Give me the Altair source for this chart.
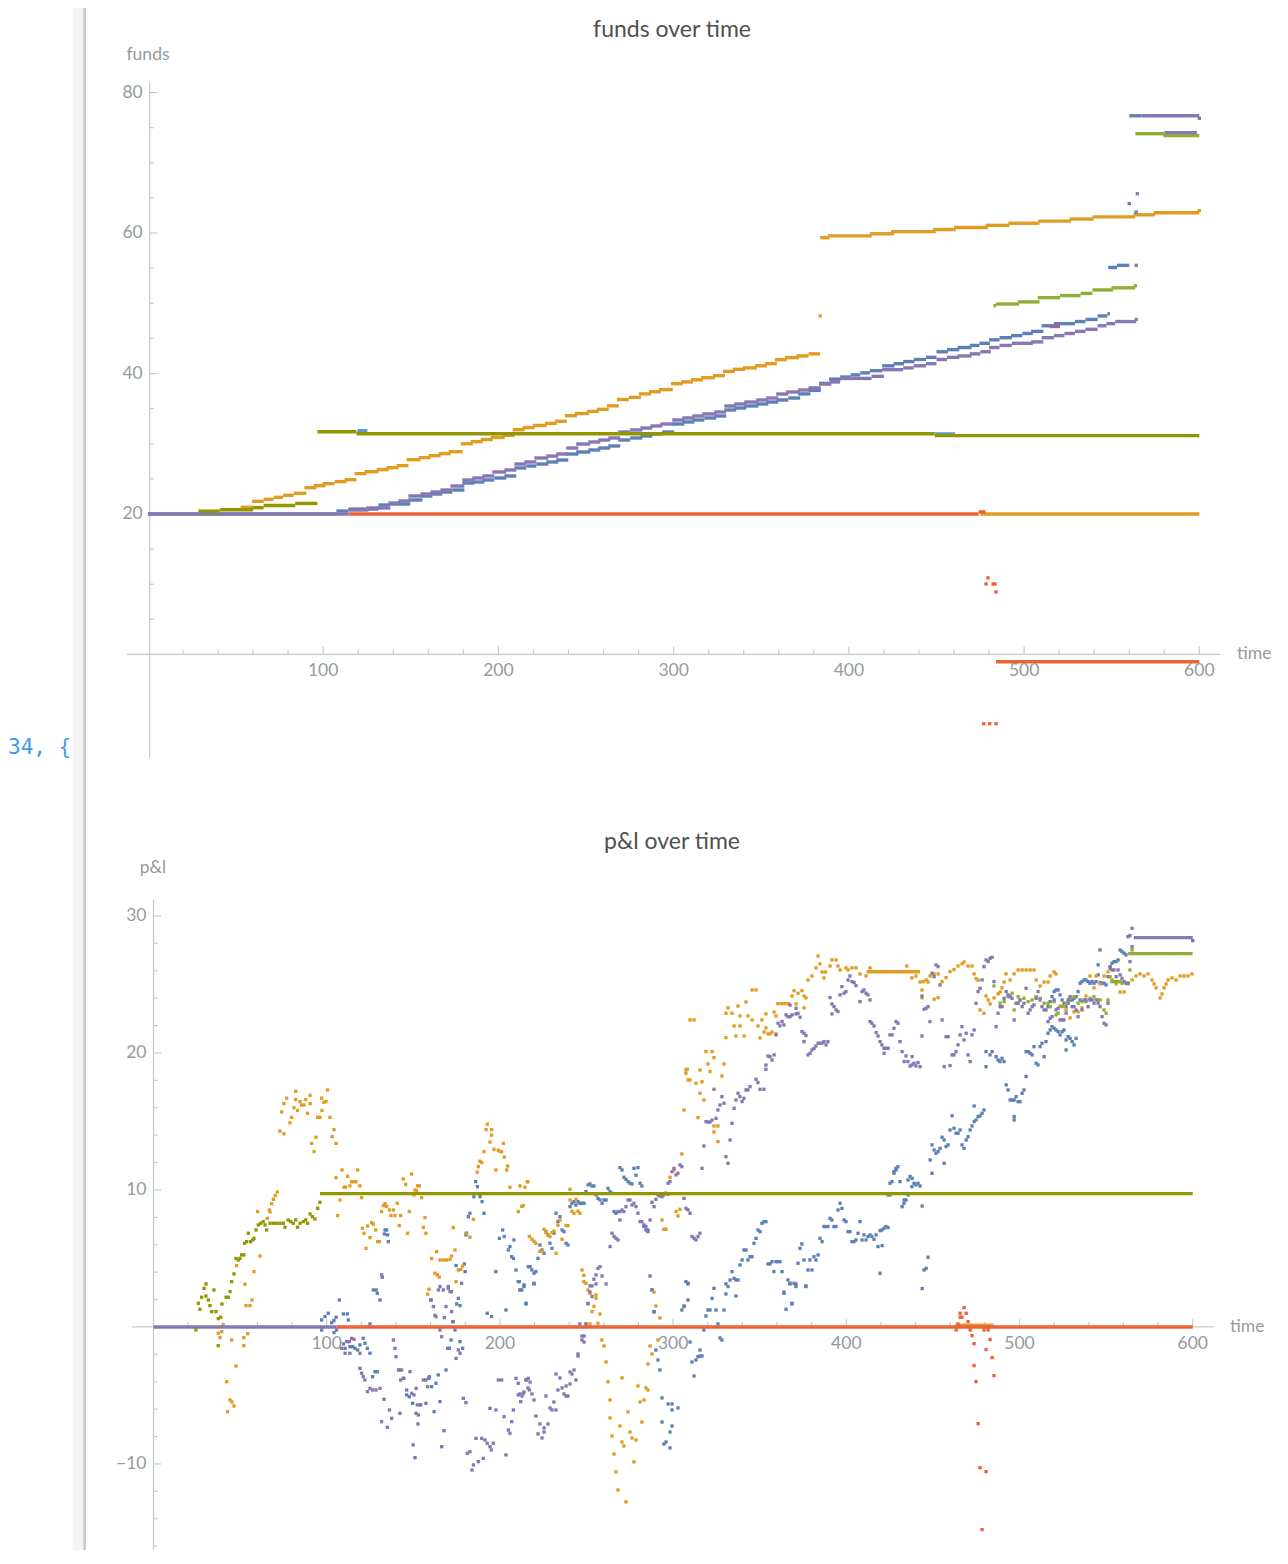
import altair as alt
import pandas as pd

# ---------------- colours (Mathematica default palette) ----------------
BLUE = "#5E81B5"
ORANGE = "#E19C24"
GREEN = "#8FB032"
RED = "#EB6235"
PURPLE = "#8778B3"
LIGHTBLUE = "#5D9EC7"
MAGENTA = "#A5609D"
OLIVE = "#929600"
AXIS_COLOR = "#C6CBCB"
LABEL_COLOR = "#939C9C"
TITLE_COLOR = "#505050"

# ---------------- funds over time : step segments (t_start, t_end, funds) ----------------
F_BLUE = [
    (0, 107.5, 20.0), (107.5, 114.4, 20.42), (114.4, 131.5, 20.7), (131.5, 138.3, 21.28),
    (138.3, 149.7, 21.42), (148.6, 156.6, 21.99), (155.5, 162.3, 22.56), (161.2, 168, 22.84),
    (166.9, 173.7, 23.13), (173.7, 180.6, 23.41), (179.4, 186.3, 24.41), (185.1, 192, 24.55),
    (190.8, 197.7, 24.84), (197.7, 204.5, 25.12), (203.4, 210.2, 25.41), (209.1, 215.9, 26.55),
    (215.9, 221.6, 26.83), (221.6, 228.5, 27.11), (227.3, 234.2, 27.4), (233, 239.9, 27.68),
    (238.7, 245.6, 28.54), (244.4, 252.4, 28.82), (251.3, 258.1, 29.11), (257, 263.8, 29.39),
    (262.7, 269.5, 29.68), (268.4, 275.2, 30.53), (275.2, 282.1, 30.82), (281, 287.8, 31.1),
    (286.7, 293.5, 31.39), (293.5, 300.3, 31.67), (299.2, 306.1, 32.81), (304.9, 311.8, 33.1),
    (310.6, 317.5, 33.38), (317.5, 324.3, 33.67), (323.2, 330, 33.95), (328.9, 335.7, 34.81),
    (334.6, 341.4, 35.09), (340.3, 348.3, 35.38), (347.1, 354, 35.66), (352.8, 359.7, 35.94),
    (358.5, 365.4, 36.23), (365.4, 372.2, 36.51), (371, 378, 37.1), (377, 384, 37.6),
    (383, 389, 38.6), (388.7, 395.3, 39.2), (395, 401, 39.5), (401, 406.5, 39.8),
    (406.5, 412, 40.1), (412, 419, 40.4), (419, 426, 41.1), (425.5, 431.5, 41.4),
    (431, 437.5, 41.7), (437, 444, 42.0), (444, 450, 42.3), (450, 456.5, 43.1),
    (456, 463, 43.4), (462, 470, 43.7), (469, 474.5, 44.0), (474.5, 480.5, 44.3),
    (480, 486, 44.8), (486, 493, 45.1), (492.5, 499, 45.4), (499, 505, 45.7),
    (504, 511, 46.0), (510, 517, 46.8), (517, 529, 47.1), (529, 535, 47.4),
    (535, 542, 47.7), (542, 547.5, 48.2), (547.5, 549, 48.5), (548, 553, 55.1),
    (553, 560, 55.4), (560, 567, 76.7),
]
F_BLUE_PTS = [(560, 64.2), (600, 76.35)]

F_ORANGE = [
    (52.8, 60.4, 20.95), (59.4, 66.1, 21.8), (66.1, 71.8, 22.09), (71.8, 77.1, 22.37),
    (77.1, 83.2, 22.66), (83.2, 90.4, 22.94), (89.3, 96.1, 23.74), (94.6, 101.4, 24.03),
    (99.6, 106.5, 24.31), (106.5, 113.3, 24.6), (112.2, 119, 24.88), (117.9, 124.7, 25.74),
    (123.6, 131.6, 26.02), (130.5, 137.3, 26.31), (136.2, 143, 26.59), (141.9, 148.7, 26.88),
    (147.6, 155.6, 27.73), (154.5, 161.3, 28.02), (160.2, 167, 28.3), (165.9, 172.8, 28.59),
    (171.6, 179.6, 28.87), (178.5, 185.4, 30.0), (184.2, 191, 30.3), (189.9, 196.7, 30.6),
    (195.6, 203.6, 30.9), (202.5, 209.3, 31.2), (208.2, 215, 32.0), (213.9, 220.7, 32.3),
    (219.6, 227.6, 32.6), (226.5, 233.3, 32.9), (232.2, 239, 33.2), (237.9, 244.8, 34.0),
    (243.6, 251.6, 34.3), (250.5, 257.3, 34.6), (256.2, 263, 34.9), (261.9, 268.7, 35.4),
    (267.6, 274.4, 36.3), (274.4, 281.3, 36.6), (280.2, 287, 37.1), (285.9, 292.7, 37.4),
    (291.6, 299.5, 37.7), (298.5, 305.3, 38.55), (304.2, 311, 38.8), (309.9, 316.7, 39.1),
    (315.6, 323.6, 39.4), (322.4, 329.3, 39.7), (328.1, 335, 40.3), (333.8, 340.7, 40.6),
    (339.5, 347.5, 40.8), (346.4, 353.2, 41.1), (352.1, 358.9, 41.4), (357.8, 364.6, 41.97),
    (363.5, 371.5, 42.26), (370, 377, 42.5), (377, 383.6, 42.8),
    (383.6, 389, 59.35), (388, 413, 59.6), (412, 425.7, 59.9), (424, 449.6, 60.2),
    (448, 460.9, 60.5), (460, 479.5, 60.8), (478, 491.6, 61.1), (491, 508.8, 61.4),
    (508, 526.8, 61.7), (526, 539.7, 62.0), (539, 563.5, 62.3), (563, 574.8, 62.6),
    (574, 600, 62.9), (475, 600, 20.0),
]
F_ORANGE_PTS = [(383.6, 48.2), (600, 63.2)]

F_GREEN = [
    (482.4, 484, 49.66), (484, 497.1, 49.9), (496.5, 508.8, 50.2), (507.8, 520.5, 50.8),
    (520.5, 532.2, 51.1), (532.2, 539, 51.4), (539, 550.8, 51.9), (549.8, 563.5, 52.2),
    (563.5, 580.1, 74.15), (579.5, 600, 73.9),
]
F_GREEN_PTS = [(563.5, 52.5), (563.5, 62.8)]

F_RED = [(114.4, 474, 20.0), (474, 478, 20.3), (484, 600, -1.04)]
F_RED_PTS = [(479.4, 10.9), (478.3, 10.03), (482.3, 10.03), (483.4, 10.03), (484, 8.9),
             (477, -9.87), (480.4, -9.87), (484, -9.87)]

F_PURPLE = [
    (0, 114.4, 20.0), (114.4, 125.8, 20.56), (124.6, 138.3, 20.85), (137.2, 144, 21.56),
    (142.9, 149.7, 21.85), (148.6, 156.6, 22.56), (155.5, 162.3, 22.84), (161.2, 168, 23.13),
    (166.9, 173.7, 23.41), (172.6, 180.6, 23.98), (179.4, 186.3, 24.84), (185.1, 192, 25.12),
    (190.8, 197.7, 25.41), (196.5, 204.5, 25.98), (203.4, 210.2, 26.26), (209.1, 215.9, 27.11),
    (214.8, 221.6, 27.4), (220.5, 228.5, 27.97), (227.3, 234.2, 28.25), (233, 239.9, 28.54),
    (238.7, 245.6, 29.39), (244.4, 252.4, 29.96), (251.3, 258.1, 30.25), (257, 263.8, 30.53),
    (262.7, 269.5, 30.82), (268.4, 275.2, 31.67), (275.2, 282.1, 31.96), (281, 287.8, 32.24),
    (286.7, 293.5, 32.53), (292.4, 300.3, 32.81), (299.2, 306.1, 33.38), (304.9, 311.8, 33.67),
    (310.6, 317.5, 33.95), (316.3, 324.3, 34.24), (323.2, 330, 34.52), (328.9, 335.7, 35.37),
    (334.6, 341.4, 35.66), (340.3, 348.3, 35.94), (347.1, 354, 36.23), (352.8, 359.7, 36.51),
    (358.5, 365.4, 37.08), (364.2, 372.2, 37.37), (371, 378, 37.65), (377, 384, 37.95),
    (383, 390, 38.5), (389, 395, 38.8), (395, 413, 39.3), (413, 420, 39.6),
    (419, 431, 40.55), (431, 437, 40.8), (437, 444, 41.1), (444, 450, 41.4),
    (450, 456, 42.0), (456, 463, 42.3), (462, 470, 42.5), (469, 475, 42.8),
    (475, 481, 43.1), (480, 486, 43.7), (486, 493, 44.0), (493, 505, 44.3),
    (504, 511, 44.5), (510, 517, 45.1), (517, 523, 45.4), (523, 529, 45.7),
    (529, 535, 46.0), (535, 542, 46.3), (542, 547, 46.8), (547, 552, 47.1),
    (552, 564, 47.4), (567, 600, 76.7), (580.1, 598.6, 74.3),
]
F_PURPLE_PTS = [(564, 47.7), (564, 55.4), (564.6, 65.6), (564, 63.0)]

F_LIGHTBLUE = [(119.5, 125.2, 31.85), (449.2, 460.6, 31.4)]
F_MAGENTA = [(514.6, 520.5, 46.7)]
F_OLIVE = [
    (28.8, 41, 20.4), (41, 60, 20.6), (60, 66, 20.9), (66, 84, 21.2), (84, 96.7, 21.5),
    (96.7, 119, 31.7), (119, 449, 31.43), (449, 600, 31.15),
]

# ---------------- p&l over time ----------------
P_PURPLE_FLAT = [(0, 105.7, 0.0), (566, 600, 28.42)]
P_RED_FLAT = [(105.7, 600, 0.0)]
P_OLIVE_FLAT = [(96.1, 600, 9.73)]
P_GREEN_FLAT = [(562.7, 600, 27.25)]
P_ORANGE_FLAT = [(411.8, 442.6, 25.93), (463, 485, 0.12)]

P_OLIVE = [
    (24.5, -0.22), (25.9, 1.73), (26.8, 1.29), (27.8, 2.17), (29.2, 2.82), (30.3, 3.14), (30.3, 2.26),
    (31.7, 1.97), (32.6, 1.56), (34.9, 2.7), (33.6, 1.12), (36.1, 1.12), (37.4, 0.61), (37.4, -1.36),
    (38.8, 0.71), (39.5, 1.68), (41.9, 2.17), (43.2, 2.17), (44.2, 2.58), (45.1, 3.31), (46.5, 3.87),
    (47.6, 5.0), (49.0, 4.89), (49.9, 5.0), (50.9, 5.26), (52.2, 5.26), (52.6, 6.11), (53.8, 6.23),
    (54.8, 6.84), (56.1, 6.23), (57.3, 6.35), (58.0, 6.47), (59.2, 7.08), (60.5, 7.45), (61.9, 7.57),
    (63.4, 7.69), (64.4, 7.45), (65.3, 7.08), (67.3, 7.57), (69.2, 7.57), (71.1, 7.57), (73.0, 7.57),
    (75.0, 7.57), (75.9, 7.28), (77.8, 7.81), (79.2, 7.69), (80.7, 7.57), (82.1, 7.81), (83.2, 7.28),
    (84.6, 7.57), (86.5, 7.69), (87.9, 7.81), (89.0, 7.57), (90.4, 8.25), (91.7, 8.05), (93.2, 7.88),
    (94.8, 8.66), (96.1, 9.1),
]

P_ORANGE = [
    (37.4, -0.46), (38.4, -0.78), (39.4, -0.34), (40.3, 0.15), (42.2, -3.99), (42.8, -6.18), (44.2, -5.33),
    (45.1, -0.95), (45.3, -5.48), (46.5, -5.77), (47.6, -2.85), (48.0, 4.48), (52.2, -0.78), (52.2, -1.36),
    (52.8, 3.12), (53.4, 1.56), (54.4, -0.49), (55.7, 1.56), (56.9, 1.97), (58.0, 4.04), (60.1, 8.42),
    (61.5, 5.18), (65.7, 7.93), (66.9, 8.54), (67.3, 8.4), (68.2, 9.0), (69.2, 9.32), (70.3, 9.59),
    (71.5, 9.85), (73.0, 14.3), (74.0, 15.7), (75.3, 14.1), (75.3, 16.3), (76.9, 16.7), (78.8, 14.9),
    (79.8, 15.3), (81.1, 16.0), (82.1, 17.2), (82.1, 16.6), (83.2, 15.8), (84.6, 16.45), (85.5, 16.2),
    (86.9, 16.2), (87.9, 16.6), (89.0, 15.6), (90.4, 16.3), (90.4, 16.9), (91.3, 13.4), (92.7, 12.8),
    (93.8, 13.85), (94.8, 15.3), (96.1, 15.3), (97.1, 16.7), (97.3, 15.8), (98.4, 16.4), (99.6, 16.45),
    (100.5, 17.3), (101.9, 15.3), (103.1, 13.9), (104.2, 14.4), (105.4, 13.4), (105.4, 10.9), (106.3, 8.13),
    (107.7, 9.27), (108.8, 11.46), (110.0, 10.2), (110.9, 10.2), (112.1, 11.0), (113.4, 10.3), (114.4, 10.6),
    (115.8, 10.6), (116.9, 10.6), (117.9, 11.46), (119.2, 10.3), (120.2, 9.44), (120.6, 7.2), (121.5, 6.84),
    (122.7, 5.74), (123.6, 7.37), (125.0, 6.52), (126.0, 7.62), (126.9, 7.5), (128.3, 7.08), (129.4, 6.23),
    (130.4, 6.23), (131.7, 8.42), (132.7, 8.86), (133.7, 9.0), (134.6, 8.8), (136.2, 8.54), (137.1, 8.13),
    (138.5, 8.54), (139.4, 8.13), (140.8, 9.03), (141.9, 7.4), (142.7, 8.13), (144.2, 10.8), (145.6, 10.4),
    (146.7, 6.84), (147.7, 8.42), (149.0, 11.17), (150.4, 9.64), (151.0, 10.0), (151.9, 9.95), (152.5, 10.3),
    (153.5, 10.3), (154.8, 9.44), (155.8, 7.27), (156.7, 7.98), (157.3, 6.84), (158.3, 2.4), (159.1, 2.75),
    (160.6, 5.0), (162.5, 3.92), (163.5, 5.5), (163.9, 3.8), (165.0, 3.63), (165.4, 4.89), (167.3, 4.89),
    (169.3, 4.89), (171.2, 4.94), (172.1, 5.18), (173.1, 7.25), (174.1, 5.62), (174.7, 3.31), (176.0, 4.16),
    (177.5, 4.2), (178.5, 4.45), (180.4, 6.84), (182.7, 6.55), (184.7, 7.86), (186.9, 11.3), (187.5, 11.7),
    (188.5, 12.1), (189.5, 12.0), (190.8, 12.8), (192.0, 14.4), (192.7, 14.8), (194.3, 13.5), (195.2, 14.0),
    (195.2, 14.4), (196.6, 12.97), (197.7, 11.46), (199.1, 12.9), (200.1, 12.8), (201.0, 12.8), (202.0, 13.4),
    (202.5, 12.4), (203.9, 11.46), (204.5, 11.75), (205.8, 10.2), (210.6, 8.42), (211.6, 10.3), (213.5, 8.86),
    (214.5, 10.2), (215.8, 10.6), (216.2, 10.6), (217.0, 6.6), (212.6, 8.8), (218.5, 6.4), (219.7, 6.25),
    (220.8, 6.1), (223.1, 5.52), (224.3, 5.52), (225.5, 7.13), (226.6, 6.9), (227.8, 6.7), (228.9, 6.6),
    (230.1, 6.9), (231.2, 7.0), (232.4, 5.38), (233.5, 7.42), (234.7, 7.8), (235.9, 6.4), (238.2, 7.4),
    (239.3, 7.4), (240.5, 10.05), (240.5, 9.27), (241.6, 8.45), (242.8, 8.3), (243.9, 9.32), (245.1, 8.45),
    (246.2, 8.3), (247.4, 4.16), (248.5, 3.77), (248.5, 3.31), (249.7, 3.19), (250.9, 2.7), (252.0, 2.46),
    (253.2, 1.12), (254.3, 1.5), (255.5, 2.34), (255.5, 2.1), (256.6, 0.27), (257.8, 0.95), (252.0, 0.22),
    (249.7, 0.22), (258.9, -0.95), (260.1, -1.39), (261.3, -2.56), (262.4, -4.0), (263.6, -5.33),
    (263.6, -6.64), (264.7, -7.96), (265.9, -9.27), (267.0, -10.58), (268.2, -11.9), (272.8, -12.77),
    (269.3, -7.23), (270.5, -3.72), (270.5, -8.4), (271.6, -8.69), (274.0, -6.2), (275.1, -7.67),
    (276.3, -8.1), (277.4, -9.85), (278.6, -8.25), (279.7, -4.31), (280.9, -5.48), (282.0, -6.94),
    (283.2, -5.33), (284.3, -4.45), (285.5, -4.6), (285.5, -2.7), (286.7, -1.39), (287.8, -1.97),
    (291.3, -0.95), (290.1, 1.53), (292.4, 0.66), (289.0, 2.55), (293.6, 7.81), (294.7, 7.13), (295.9, 7.13),
    (301.7, 8.42), (302.8, 8.1), (304.0, 8.59), (300.5, 11.46), (298.2, 10.93), (297.1, 9.68), (305.1, 12.63),
    (306.3, 15.84), (314.4, 15.28), (316.7, 17.9), (315.5, 17.06), (317.8, 16.57), (307.4, 18.76),
    (307.4, 18.52), (308.6, 18.03), (309.8, 18.03), (313.2, 17.79), (315.5, 18.76), (319.0, 20.1),
    (322.5, 20.1), (320.1, 19.2), (321.3, 18.64), (323.6, 19.66), (328.2, 18.32), (329.4, 19.2),
    (323.6, 14.67), (325.9, 14.67), (323.6, 14.23), (325.9, 13.53), (308.2, 18.81), (309.8, 22.41),
    (312.1, 22.41), (330.5, 21.12), (336.3, 21.24), (341.0, 21.24), (335.2, 21.97), (338.6, 21.97),
    (349.0, 21.97), (350.2, 21.1), (353.6, 21.83), (352.5, 21.53), (354.8, 21.39), (357.1, 21.53),
    (356.0, 21.39), (359.4, 21.39), (331.7, 23.29), (330.5, 22.9), (334.0, 22.9), (337.5, 23.43),
    (338.6, 22.7), (343.3, 22.7), (342.1, 23.72), (345.6, 22.41), (351.3, 22.41), (353.6, 22.85),
    (358.3, 22.99), (359.4, 22.7), (345.6, 24.6), (347.9, 24.6), (360.5, 23.6), (362.5, 23.6),
    (364.5, 23.6), (366.5, 23.6), (368.7, 24.16), (369.8, 24.55), (372.1, 24.36), (374.4, 24.55),
    (375.6, 24.16), (376.7, 24.02), (371.0, 23.58), (375.6, 23.29), (377.9, 25.33), (380.2, 25.62),
    (382.5, 26.21), (384.8, 26.5), (383.7, 27.08), (387.1, 25.48), (390.6, 26.35), (391.7, 26.79),
    (394.1, 26.79), (395.2, 26.35), (396.4, 26.06), (399.8, 26.21), (401.0, 26.06), (403.3, 26.21),
    (405.6, 26.21), (407.9, 25.77), (411.4, 25.62), (413.7, 26.21), (386.0, 25.91), (388.0, 25.91),
    (434.9, 26.35), (437.9, 25.48), (440.2, 25.62), (442.6, 25.18), (443.7, 24.6), (443.7, 24.02),
    (444.5, 25.21), (446.1, 25.33), (447.2, 25.18), (448.4, 25.62), (450.7, 25.77), (453.0, 25.77),
    (450.7, 23.92), (453.0, 24.04), (455.3, 25.21), (457.6, 25.5), (459.9, 25.94), (462.2, 26.09),
    (464.5, 26.35), (466.8, 26.5), (468.0, 26.64), (470.3, 26.35), (472.6, 26.35), (473.8, 25.77),
    (474.9, 25.43), (476.1, 25.31), (477.2, 23.14), (479.5, 22.9), (480.7, 24.16), (481.9, 23.87),
    (483.0, 23.58), (485.3, 24.02), (487.6, 24.31), (488.8, 24.45), (489.9, 24.75), (491.1, 25.18),
    (492.2, 25.77), (494.6, 25.33), (496.9, 25.77), (499.2, 26.06), (501.5, 26.06), (503.8, 26.06),
    (506.1, 26.06), (508.4, 26.06), (509.6, 25.33), (511.9, 24.89), (514.2, 25.18), (516.5, 25.18),
    (517.7, 25.62), (520.0, 25.92), (521.1, 25.77), (523.4, 23.43), (525.7, 23.43), (526.9, 23.14),
    (529.2, 22.56), (531.5, 23.0), (533.8, 23.0), (536.1, 23.29), (538.4, 24.16), (540.7, 25.62),
    (543.0, 24.75), (544.2, 25.62), (546.5, 25.04), (548.8, 25.62), (551.1, 25.92), (553.4, 25.33),
    (555.8, 25.04), (558.1, 24.45), (560.4, 24.45), (562.7, 25.04), (565.0, 25.33), (567.3, 25.62),
    (569.6, 25.77), (571.9, 25.62), (574.2, 25.77), (576.5, 25.33), (577.7, 25.04), (578.9, 24.75),
    (581.2, 24.02), (582.3, 24.31), (583.5, 24.75), (584.6, 25.04), (585.8, 25.33), (588.1, 25.48),
    (590.4, 25.33), (592.7, 25.62), (595.0, 25.62), (597.3, 25.62), (599.6, 25.77),
]

P_BLUE = [
    (97.1, 0.51), (99.0, 0.76), (100.9, 1.0), (102.9, 0.32), (104.2, 0.46), (105.4, 0.71), (107.3, 1.97),
    (109.6, 0.95), (111.9, 0.95), (112.5, 0.51), (97.1, -0.22), (104.2, -0.41), (105.7, -0.22),
    (110.6, -1.56), (113.4, -1.44), (115.0, -1.44), (116.3, -1.56), (117.9, -1.68), (119.2, -1.31),
    (121.1, -0.83), (122.1, -1.19), (123.5, -1.56), (125.0, -1.92), (126.5, -3.63), (127.9, -3.26),
    (129.2, -3.26), (119.2, -3.02), (125.0, 0.22), (126.9, 2.7), (128.5, 2.7), (129.2, 2.46), (130.8, 1.97),
    (132.1, 3.63), (133.3, 6.79), (133.7, 7.08), (134.6, 7.08), (135.2, 6.72), (135.6, 6.23), (141.9, -3.14),
    (142.3, -6.3), (144.2, -3.75), (146.2, -4.96), (147.7, -5.09), (149.6, -5.57), (149.9, -8.61),
    (151.0, -9.54), (151.6, -6.3), (152.7, -7.08), (153.9, -5.69), (157.3, -5.57), (158.9, -3.75),
    (160.6, -4.36), (162.0, -6.18), (163.1, -4.11), (164.4, -3.5), (165.4, -5.45), (166.4, -8.74),
    (167.7, -7.57), (168.9, -3.14), (169.8, -1.56), (170.8, -1.56), (171.8, -0.95), (172.7, 0.39),
    (174.1, -0.22), (175.0, 1.68), (177.0, -1.07), (178.5, -1.56), (174.7, 4.48), (177.0, 1.56),
    (179.9, 4.04), (179.5, 4.6), (180.4, 6.72), (180.8, 6.84), (181.8, 8.05), (182.7, 8.3), (185.0, 9.51),
    (186.0, 10.61), (187.0, 10.24), (188.5, 9.51), (189.7, 9.15), (190.8, 8.3), (192.7, 1.0), (194.3, -5.94),
    (195.2, 0.76), (197.7, 4.04), (199.7, 6.47), (201.6, 7.08), (202.5, 6.6), (203.5, 1.24), (204.9, 5.62),
    (205.8, 5.86), (206.8, 5.13), (207.8, 5.0), (208.1, 6.35), (209.3, 4.16), (210.6, 3.31), (211.2, 3.31),
    (212.6, 2.7), (213.9, 2.95), (215.1, 1.73), (216.4, 4.4), (213.9, 3.07), (217.4, 4.4), (218.5, 4.16),
    (219.7, 3.92), (220.8, 4.04), (219.7, 3.19), (222.0, 5.01), (223.1, 5.98), (224.3, 5.62), (225.5, 5.38),
    (226.6, 6.96), (227.8, 6.72), (228.9, 6.11), (230.1, 5.74), (231.2, 6.84), (232.4, 8.3), (233.5, 7.69),
    (234.7, 8.05), (235.9, 7.08), (237.0, 6.96), (238.2, 6.11), (239.3, 5.98), (240.5, 8.78), (241.6, 9.03),
    (242.8, 9.15), (243.9, 8.9), (245.1, 9.15), (246.2, 9.03), (247.4, 9.03), (248.6, 9.03), (249.7, 9.88),
    (250.9, 10.37), (252.0, 10.44), (253.2, 10.29), (254.3, 10.29), (255.5, 9.64), (256.6, 9.39),
    (257.8, 9.27), (259.0, 9.03), (260.1, 9.27), (261.3, 9.27), (262.4, 10.12), (263.6, 9.88), (264.7, 9.76),
    (265.9, 8.42), (267.0, 8.3), (268.2, 8.42), (269.3, 11.63), (270.5, 11.46), (271.6, 10.93),
    (272.8, 10.78), (274.0, 10.61), (275.1, 10.49), (276.3, 10.44), (277.4, 11.58), (278.6, 11.07),
    (279.7, 11.63), (280.9, 10.49), (282.0, 10.29), (283.2, 7.33), (284.3, 7.08), (285.5, 6.96),
    (286.7, 3.72), (287.8, 2.7), (289.0, 1.12), (305.1, 1.24), (306.3, 1.49), (307.4, 3.31), (308.6, 1.97),
    (308.6, 3.19), (317.8, -0.22), (319.0, 0.8), (320.1, 1.24), (321.3, 1.24), (322.5, 2.09), (323.6, 2.82),
    (324.8, 1.24), (330.5, 2.41), (331.7, 2.95), (332.9, 3.43), (334.0, 4.04), (335.2, 3.55), (336.3, 3.43),
    (337.5, 3.43), (338.6, 4.53), (339.8, 4.89), (340.9, 5.62), (342.1, 5.62), (343.2, 4.89), (344.4, 5.13),
    (345.5, 5.13), (346.7, 6.11), (347.9, 6.47), (349.0, 7.08), (350.2, 6.96), (351.3, 7.57), (352.5, 7.69),
    (353.6, 7.69), (354.8, 4.6), (355.9, 4.6), (357.1, 4.77), (358.2, 4.04), (359.4, 4.77), (360.6, 4.77),
    (361.7, 4.77), (362.9, 4.04), (364.0, 2.46), (365.2, 1.29), (366.3, 3.43), (367.5, 3.19), (368.6, 1.73),
    (369.8, 3.19), (370.9, 2.95), (372.1, 4.65), (373.3, 5.74), (374.4, 6.06), (375.6, 4.89), (376.7, 2.95),
    (377.9, 4.16), (379.0, 4.89), (380.2, 4.16), (381.3, 5.13), (382.5, 4.89), (383.7, 5.26), (384.8, 6.47),
    (386.0, 6.23), (387.1, 7.33), (388.3, 7.33), (389.4, 7.33), (390.6, 7.93), (391.7, 7.81), (392.9, 7.33),
    (394.0, 7.33), (395.2, 8.54), (396.4, 9.03), (397.5, 8.66), (398.7, 7.81), (399.8, 7.69), (401.0, 6.96),
    (402.1, 6.96), (403.3, 6.23), (404.4, 6.23), (405.6, 6.35), (406.8, 6.84), (407.9, 7.69), (409.1, 6.35),
    (410.2, 6.72), (411.4, 6.35), (412.5, 6.6), (413.7, 6.72), (414.8, 6.6), (416.0, 6.4), (417.2, 6.72),
    (418.3, 5.87), (419.5, 3.92), (420.6, 7.08), (421.8, 7.2), (422.9, 7.33), (424.1, 9.64), (425.2, 10.49),
    (426.4, 10.61), (427.5, 11.22), (428.7, 11.46), (429.8, 11.7), (431.0, 10.61), (432.2, 8.78),
    (433.3, 9.03), (434.5, 9.27), (435.6, 10.73), (436.8, 10.98), (437.9, 10.24), (439.1, 10.49),
    (440.2, 10.37), (441.4, 10.49), (215.1, 1.68), (211.6, 2.7), (219.7, 3.14), (287.8, 2.7), (289.0, 1.1),
    (306.3, 1.53), (308.6, 3.14), (325.9, 0.22), (329.4, 1.24), (330.5, 3.14), (336.3, 2.26), (309.8, -1.1),
    (310.9, -2.56), (313.2, -2.41), (314.4, -2.17), (315.5, -2.12), (316.7, -2.12), (315.5, -1.68),
    (312.1, -3.58), (291.3, -2.41), (290.1, -1.68), (292.4, -3.14), (293.6, -5.18), (297.1, -5.62),
    (299.4, -5.62), (302.8, -5.91), (299.4, -6.06), (293.6, -6.94), (299.4, -7.23), (298.2, -7.67),
    (295.9, -8.4), (294.7, -8.54), (298.2, -8.83), (327.1, -0.8), (328.2, -0.95), (364.0, 2.55),
    (367.5, 3.14), (368.6, 1.68), (370.9, 3.14), (376.7, 3.0), (425.3, 9.64), (427.6, 11.34), (428.7, 11.58),
    (438.0, 10.85), (442.6, 10.29), (419.5, 7.03), (424.1, 7.25), (420.7, 5.94), (433.4, 9.27),
    (435.7, 9.64), (443.8, 8.83), (447.2, 5.09), (446.1, 4.28), (444.9, 4.16), (443.8, 2.8), (448.4, 12.19),
    (449.5, 11.22), (449.5, 13.29), (450.7, 12.92), (451.8, 12.68), (453.0, 12.8), (454.1, 13.04),
    (455.3, 13.85), (456.5, 13.65), (456.5, 11.95), (457.6, 13.17), (458.8, 13.29), (459.9, 14.38),
    (461.1, 15.41), (462.2, 14.5), (463.4, 14.14), (464.5, 14.14), (465.7, 14.38), (466.8, 13.29),
    (468.0, 13.04), (469.2, 13.65), (470.3, 13.89), (471.5, 14.38), (472.6, 14.67), (473.8, 14.99),
    (473.8, 16.13), (474.9, 15.11), (476.1, 15.36), (477.2, 15.41), (478.4, 15.6), (479.5, 15.84),
    (480.7, 20.1), (480.7, 19.0), (483.0, 19.86), (484.2, 20.1), (486.5, 19.73), (487.6, 19.49),
    (488.8, 19.37), (489.9, 19.61), (491.1, 19.37), (492.3, 17.67), (493.4, 17.3), (494.6, 16.57),
    (495.7, 16.57), (496.9, 16.57), (496.9, 15.36), (496.9, 15.11), (498.0, 16.81), (499.2, 16.45),
    (500.3, 16.45), (501.5, 17.06), (502.6, 17.3), (503.8, 18.28), (503.8, 20.1), (505.0, 20.1),
    (506.1, 19.98), (507.3, 19.86), (508.4, 20.46), (509.6, 19.25), (510.7, 19.13), (511.9, 20.46),
    (513.0, 20.71), (514.2, 19.73), (515.3, 20.83), (516.5, 21.44), (517.7, 21.68), (518.8, 21.92),
    (520.0, 21.8), (521.1, 21.68), (522.3, 21.56), (523.4, 21.32), (524.6, 21.56), (525.7, 21.68),
    (526.9, 20.95), (526.9, 20.22), (528.1, 21.19), (529.2, 21.07), (530.4, 20.83), (531.5, 20.59),
    (532.7, 21.07), (516.5, 23.38), (517.7, 23.75), (518.8, 24.11), (520.0, 24.48), (521.1, 24.6),
    (522.3, 24.6), (523.4, 24.24), (524.6, 23.87), (525.7, 23.63), (526.9, 23.38), (528.1, 23.63),
    (529.2, 23.87), (530.4, 23.87), (531.5, 23.99), (532.7, 24.11), (533.8, 24.48), (535.0, 25.09),
    (536.1, 25.21), (537.3, 25.33), (538.4, 25.33), (539.6, 25.21), (540.7, 25.09), (541.9, 25.21),
    (543.0, 25.09), (544.2, 25.21), (545.4, 25.7), (546.5, 27.52), (545.4, 26.43), (546.5, 25.14),
    (547.7, 25.09), (548.8, 25.09), (550.0, 24.97), (551.1, 25.57), (552.3, 26.3), (553.4, 26.55),
    (554.6, 26.67), (555.8, 26.67), (556.9, 26.79), (558.1, 27.52), (559.2, 27.4), (560.4, 27.28),
    (561.5, 27.16), (562.7, 28.49), (600.0, 28.2),
]

P_GREEN = [
    (485.3, 24.89), (488.8, 23.63), (491.1, 23.75), (493.4, 24.11), (495.7, 24.36), (496.9, 23.14),
    (499.2, 24.11), (500.3, 23.87), (502.6, 23.99), (505.0, 23.75), (507.3, 23.87), (509.6, 24.11),
    (511.9, 23.99), (514.2, 23.63), (516.5, 23.63), (517.7, 23.38), (520.0, 23.75), (521.1, 22.78),
    (522.3, 22.9), (524.6, 23.38), (526.9, 23.63), (529.2, 23.99), (531.5, 24.11), (533.8, 23.63),
    (536.1, 23.75), (538.4, 23.75), (540.7, 23.99), (543.0, 24.11), (545.4, 23.87), (546.5, 23.87),
    (548.8, 23.14), (550.0, 22.9), (551.1, 23.87), (552.3, 25.57), (553.4, 25.21), (554.6, 25.21),
    (555.8, 25.21), (556.9, 25.21), (558.1, 25.21), (559.2, 25.09), (562.7, 25.09), (563.8, 26.06),
    (565.0, 27.52),
]

P_RED = [
    (468.0, 1.41), (465.7, 1.0), (465.7, 0.71), (466.8, 0.71), (469.2, 1.0), (464.5, 0.22), (470.3, 0.39),
    (463.4, -0.22), (471.5, -0.22), (472.6, -0.63), (473.8, -1.22), (473.8, -2.82), (474.9, -3.99),
    (476.1, -7.06), (477.2, -10.27), (480.7, -10.56), (478.4, -14.79), (480.7, -1.65), (483.0, -0.92),
    (484.2, -2.24), (485.3, -3.55), (479.5, -0.22), (481.9, -0.22),
]

P_PURPLE = [
    (131.7, 3.8), (160.0, 1.97), (161.6, 1.49), (162.5, 0.85), (164.5, 2.7), (165.4, 2.95), (167.9, 0.68),
    (170.2, 2.95), (171.2, 2.58), (172.1, 1.12), (173.1, 0.39), (176.0, 2.09), (177.9, 3.19),
    (108.6, -1.56), (109.6, -1.24), (111.5, -1.07), (113.1, -1.07), (114.4, -0.83), (115.8, -0.9),
    (110.6, -1.92), (113.4, -1.92), (119.2, -1.92), (121.1, -3.63), (120.2, -3.38), (122.1, -3.87),
    (123.5, -4.72), (125.0, -4.48), (126.5, -4.6), (128.5, -4.6), (130.8, -4.48), (131.7, -6.91),
    (133.1, -5.28), (135.0, -7.32), (136.2, -6.06), (137.5, -6.67), (138.5, -0.95), (139.4, -1.56),
    (140.0, -2.17), (141.5, -3.14), (142.7, -3.87), (143.3, -3.14), (144.6, -3.75), (146.2, -4.6),
    (148.1, -3.26), (149.1, -4.84), (150.4, -4.96), (151.6, -4.48), (152.3, -5.69), (152.9, -6.42),
    (154.3, -5.69), (155.8, -3.87), (157.3, -3.87), (158.3, -4.36), (159.3, -3.63), (160.4, 1.97),
    (163.1, 0.75), (165.4, -0.22), (166.4, -0.71), (167.3, 2.7), (168.9, 1.49), (170.2, 2.82),
    (172.1, 2.58), (174.7, -2.29), (177.0, -1.92), (176.0, -1.68), (178.9, -5.21), (180.4, -5.52),
    (181.2, -9.22), (182.7, -9.1), (183.9, -10.44), (184.7, -10.07), (186.2, -8.13), (187.5, -9.83),
    (189.5, -8.13), (190.4, -9.59), (191.4, -8.25), (192.7, -8.49), (194.3, -8.74), (196.2, -8.49),
    (195.0, -8.98), (197.7, -6.06), (199.1, -3.87), (201.0, -3.87), (202.4, -6.55), (203.5, -9.34),
    (204.9, -7.52), (205.8, -7.76), (206.8, -6.91), (207.8, -6.06), (209.3, -3.75), (210.6, -4.11),
    (210.6, -4.96), (212.0, -5.45), (213.5, -4.84), (215.1, -3.87), (216.4, -3.75), (217.0, -4.6),
    (211.6, 2.7), (252.0, 2.55), (253.2, 3.0), (255.5, 3.14), (261.3, 3.14), (250.9, 1.68), (246.2, 0.22),
    (249.7, 0.22), (247.4, -0.66), (248.6, -0.66), (247.4, -0.95), (248.6, -1.1), (245.1, -1.97),
    (245.1, -2.12), (232.4, -3.43), (234.7, -3.72), (240.5, -3.29), (241.6, -3.43), (242.8, -3.14),
    (243.9, -3.87), (215.1, -3.87), (217.4, -4.02), (216.2, -4.45), (213.9, -4.75), (211.6, -4.89),
    (212.8, -5.04), (219.7, -5.33), (218.5, -4.89), (226.6, -5.04), (231.2, -5.48), (233.5, -4.6),
    (235.9, -4.45), (238.2, -4.31), (240.5, -4.16), (237.0, -4.89), (238.2, -5.04), (239.3, -5.04),
    (228.9, -5.91), (230.1, -6.06), (232.4, -6.06), (220.8, -6.5), (223.1, -7.08), (227.8, -7.08),
    (225.5, -7.37), (225.5, -7.67), (222.0, -7.81), (224.3, -8.1), (257.8, 4.4), (256.6, 4.28),
    (255.5, 3.8), (259.0, 3.72), (254.3, 3.48), (253.2, 2.22), (252.0, 3.0), (250.9, 1.73),
    (263.6, 5.87), (264.7, 6.84), (265.9, 6.6), (267.0, 6.48), (268.2, 6.35), (269.3, 7.81), (269.3, 8.42),
    (270.5, 8.54), (271.6, 8.42), (272.8, 8.78), (274.0, 9.27), (275.1, 9.27), (276.3, 8.9), (277.4, 9.03),
    (278.6, 8.78), (279.7, 8.3), (280.9, 7.69), (282.0, 7.69), (283.2, 7.45), (284.3, 7.33), (285.5, 7.08),
    (286.7, 7.81), (287.8, 9.1), (289.0, 8.78), (290.1, 9.32), (291.3, 9.64), (292.4, 9.56), (293.6, 9.51),
    (294.7, 9.64), (295.9, 9.76), (297.1, 10.49), (298.2, 10.61), (299.4, 11.34), (300.5, 11.58),
    (301.7, 11.1), (302.8, 11.22), (304.0, 11.83), (305.1, 11.7), (306.3, 9.39), (307.4, 8.66),
    (308.6, 8.54), (309.8, 8.3), (310.9, 6.6), (312.1, 6.48), (313.2, 6.35), (314.4, 6.6), (315.5, 6.84),
    (316.7, 11.58), (317.8, 13.21), (319.0, 14.99), (320.1, 14.96), (321.3, 14.96), (322.5, 15.1),
    (323.6, 17.35), (324.8, 15.23), (325.9, 15.84), (327.1, 16.2), (328.2, 16.81), (329.4, 16.33),
    (330.5, 12.43), (331.7, 11.95), (332.9, 13.65), (334.0, 14.87), (335.2, 15.96), (336.3, 16.57),
    (337.5, 17.06), (338.6, 16.81), (339.8, 16.45), (340.9, 16.69), (342.1, 17.3), (343.2, 17.3),
    (344.4, 17.54), (347.9, 18.08), (349.0, 17.84), (350.2, 17.35), (352.5, 17.35), (353.6, 18.81),
    (353.6, 19.12), (354.8, 19.78), (355.9, 19.73), (357.1, 19.49), (358.3, 19.86), (359.4, 21.32),
    (360.6, 22.17), (361.7, 21.97), (364.0, 22.05), (362.9, 22.29), (365.2, 22.78), (366.3, 22.65),
    (367.5, 22.65), (368.7, 22.78), (371.0, 22.85), (372.1, 22.9), (373.3, 22.61), (371.0, 23.26),
    (367.5, 23.5), (374.4, 21.56), (375.6, 21.44), (376.7, 21.27), (375.6, 20.83), (379.1, 19.98),
    (377.9, 19.86), (380.2, 20.22), (381.4, 20.34), (382.5, 20.51), (383.7, 20.71), (384.8, 20.71),
    (386.0, 20.71), (387.1, 20.83), (388.3, 20.59), (389.4, 20.83), (390.6, 24.04), (391.7, 23.58),
    (392.9, 23.38), (394.1, 23.14), (395.2, 23.02), (391.7, 22.85), (396.4, 24.24), (397.5, 24.84),
    (398.7, 24.36), (399.8, 24.48), (401.0, 25.33), (402.1, 25.62), (403.3, 25.21), (404.5, 25.14),
    (405.6, 24.92), (407.9, 23.75), (409.1, 24.48), (410.2, 24.6), (411.4, 24.36), (412.5, 24.24),
    (413.7, 23.87), (413.7, 22.29), (414.8, 22.17), (416.0, 21.97), (417.2, 21.49), (418.3, 21.24),
    (419.5, 20.83), (420.6, 20.59), (421.8, 20.34), (422.9, 20.34), (424.1, 20.34), (421.8, 19.98),
    (425.2, 21.32), (426.4, 21.32), (427.5, 21.8), (428.7, 22.29), (429.9, 22.17), (431.0, 20.83),
    (432.2, 20.1), (433.4, 19.37), (434.5, 19.78), (435.6, 19.37), (436.8, 19.05), (437.9, 19.13),
    (438.0, 19.73), (439.1, 19.25), (440.2, 19.05), (441.4, 19.3), (442.6, 19.0), (443.7, 21.24),
    (443.7, 24.16), (444.9, 23.19), (446.0, 23.26), (447.2, 23.38), (448.3, 22.29), (449.5, 25.82),
    (450.7, 25.57), (451.8, 26.43), (453.0, 26.3), (454.1, 24.97), (455.3, 22.41), (456.5, 19.0),
    (457.6, 21.19), (458.8, 21.19), (459.9, 19.08), (461.1, 19.86), (462.2, 19.86), (463.4, 20.1),
    (464.5, 20.59), (465.7, 21.32), (466.8, 21.92), (468.0, 20.95), (469.2, 21.44), (470.3, 19.86),
    (471.5, 19.37), (472.6, 21.32), (473.8, 21.68), (474.9, 23.63), (476.1, 24.48), (477.2, 24.72),
    (478.4, 25.33), (479.5, 26.3), (480.7, 26.79), (481.9, 26.67), (483.0, 26.91), (484.2, 26.98),
    (485.3, 25.21), (486.5, 21.92), (487.6, 22.9), (488.8, 23.38), (489.9, 23.38), (491.1, 23.99),
    (492.3, 24.48), (493.4, 24.24), (494.6, 24.11), (495.7, 23.99), (496.9, 22.41), (498.0, 23.63),
    (499.2, 23.63), (500.3, 23.87), (501.5, 23.38), (502.6, 23.63), (503.8, 24.72), (505.0, 22.9),
    (506.1, 23.14), (507.3, 23.38), (508.4, 23.51), (509.6, 23.99), (510.7, 24.48), (511.9, 23.87),
    (513.0, 23.38), (514.2, 23.14), (515.3, 23.14), (516.5, 22.29), (517.7, 22.53), (518.8, 22.65),
    (520.0, 23.87), (521.1, 23.14), (522.3, 23.26), (523.4, 22.41), (524.6, 22.41), (525.7, 22.41),
    (526.9, 22.9), (528.1, 23.87), (529.2, 24.11), (530.4, 23.38), (531.5, 23.38), (532.7, 23.14),
    (533.8, 22.65), (535.0, 23.87), (536.1, 23.14), (537.3, 23.87), (538.4, 23.87), (539.6, 23.38),
    (540.7, 23.87), (541.9, 23.87), (543.0, 23.63), (544.2, 23.87), (545.4, 23.63), (546.5, 23.38),
    (547.7, 22.65), (548.8, 22.17), (550.0, 22.05), (551.1, 23.63), (552.3, 26.18), (553.4, 26.06),
    (554.6, 26.06), (555.8, 25.57), (556.9, 26.06), (558.1, 25.7), (559.2, 25.45), (560.4, 25.21),
    (561.5, 25.09), (562.7, 25.09), (563.8, 26.67), (565.0, 29.1), (565.0, 27.76), (563.8, 28.57),
]

# ---------------- axes: tick positions & labels ----------------
TIME_MAJOR = [100, 200, 300, 400, 500, 600]
TIME_MINOR = [20, 40, 60, 80, 120, 140, 160, 180, 220, 240, 260, 280, 320, 340, 360, 380,
              420, 440, 460, 480, 520, 540, 560, 580]
F_Y_MAJOR = [20, 40, 60, 80]
F_Y_MINOR = [5, 10, 15, 25, 30, 35, 45, 50, 55, 65, 70, 75]
P_Y_MAJOR = [-10, 10, 20, 30]
P_Y_MINOR = [-16, -14, -12, -8, -6, -4, -2, 2, 4, 6, 8, 12, 14, 16, 18, 22, 24, 26, 28]

# ---------------- layout ----------------
W = 1270
H1, H2 = 787, 755
X1_DOM, Y1_DOM = [-79.87, 644.9], [-20.02, 92.05]
X2_DOM, Y2_DOM = [-84.0, 649.25], [-16.28, 38.83]
FONT = "Lato"
TICK_FS = 17.5
NAME_FS = 17.5
TITLE_FS = 23


def seg_df(rows):
    return pd.DataFrame(rows, columns=["t", "t2", "v"])


def pt_df(rows):
    return pd.DataFrame(rows, columns=["t", "v"])


def build_panel(width, height, xdom, ydom, layers_spec, y_axis_t, y_axis_range, x_axis_range,
                y_major, y_minor, y_labels, title, ylab, ylab_pos, timelab_pos, title_y):
    xs = alt.Scale(domain=xdom, nice=False, zero=False)
    ys = alt.Scale(domain=ydom, nice=False, zero=False)
    px_x = width / (xdom[1] - xdom[0])
    px_y = height / (ydom[1] - ydom[0])
    X = lambda f: alt.X(f, type="quantitative", scale=xs, axis=None)
    Y = lambda f: alt.Y(f, type="quantitative", scale=ys, axis=None)

    layers = []
    # notebook cell bracket decoration
    deco = pd.DataFrame({"k": [0]})
    layers.append(alt.Chart(deco).mark_rect(color="#F4F4F4").encode(
        x=alt.value(64.7), x2=alt.value(75.3), y=alt.value(0), y2=alt.value(height)))
    layers.append(alt.Chart(deco).mark_rect(color="#C9C9C9").encode(
        x=alt.value(75.3), x2=alt.value(78), y=alt.value(0), y2=alt.value(height)))

    # axis lines
    ax = pd.DataFrame([
        {"t": y_axis_t, "t2": y_axis_t, "v": y_axis_range[0], "v2": y_axis_range[1]},
        {"t": x_axis_range[0], "t2": x_axis_range[1], "v": 0, "v2": 0},
    ])
    layers.append(alt.Chart(ax).mark_rule(color=AXIS_COLOR, strokeWidth=1.3).encode(
        x=X("t"), x2="t2:Q", y=Y("v"), y2="v2:Q"))
    # ticks (pointing inward, Mathematica style)
    ticks = []
    for t in TIME_MAJOR:
        ticks.append({"t": t, "t2": t, "v": 0, "v2": 8 / px_y})
    for t in TIME_MINOR:
        ticks.append({"t": t, "t2": t, "v": 0, "v2": 5 / px_y})
    for v in y_major:
        ticks.append({"t": y_axis_t, "t2": y_axis_t + 7.5 / px_x, "v": v, "v2": v})
    for v in y_minor:
        ticks.append({"t": y_axis_t, "t2": y_axis_t + 4 / px_x, "v": v, "v2": v})
    layers.append(alt.Chart(pd.DataFrame(ticks)).mark_rule(color=AXIS_COLOR, strokeWidth=1.2).encode(
        x=X("t"), x2="t2:Q", y=Y("v"), y2="v2:Q"))

    # data series, in drawing order
    for kind, rows, color in layers_spec:
        if kind == "seg":
            layers.append(alt.Chart(seg_df(rows)).mark_rule(
                color=color, strokeWidth=3.4, strokeCap="butt").encode(
                x=X("t"), x2="t2:Q", y=Y("v")))
        else:
            layers.append(alt.Chart(pt_df(rows)).mark_square(
                color=color, size=11, opacity=1).encode(x=X("t"), y=Y("v")))

    # tick labels
    xl = pd.DataFrame({"t": TIME_MAJOR, "v": [0] * len(TIME_MAJOR),
                       "lab": [str(t) for t in TIME_MAJOR]})
    layers.append(alt.Chart(xl).mark_text(font=FONT, fontSize=TICK_FS, color=LABEL_COLOR,
                                          baseline="top", align="center", dy=8).encode(
        x=X("t"), y=Y("v"), text="lab:N"))
    yl = pd.DataFrame({"t": [y_axis_t] * len(y_major), "v": y_major, "lab": y_labels})
    layers.append(alt.Chart(yl).mark_text(font=FONT, fontSize=TICK_FS, color=LABEL_COLOR,
                                          baseline="middle", align="right", dx=-7).encode(
        x=X("t"), y=Y("v"), text="lab:N"))

    # titles and axis names
    tx = pd.DataFrame({"k": [0]})
    layers.append(alt.Chart(tx).mark_text(font=FONT, fontSize=TITLE_FS, color=TITLE_COLOR,
                                          align="center", baseline="middle", text=title).encode(
        x=alt.value(664), y=alt.value(title_y)))
    layers.append(alt.Chart(tx).mark_text(font=FONT, fontSize=NAME_FS, color=LABEL_COLOR,
                                          align="center", baseline="middle", text=ylab).encode(
        x=alt.value(ylab_pos[0]), y=alt.value(ylab_pos[1])))
    layers.append(alt.Chart(tx).mark_text(font=FONT, fontSize=NAME_FS, color=LABEL_COLOR,
                                          align="left", baseline="middle", text="time").encode(
        x=alt.value(timelab_pos[0]), y=alt.value(timelab_pos[1])))
    return alt.layer(*layers).properties(width=width, height=height)


funds_layers = [
    ("seg", F_BLUE, BLUE), ("pt", F_BLUE_PTS, BLUE),
    ("seg", F_ORANGE, ORANGE), ("pt", F_ORANGE_PTS, ORANGE),
    ("seg", F_GREEN, GREEN), ("pt", F_GREEN_PTS, GREEN),
    ("seg", F_RED, RED), ("pt", F_RED_PTS, RED),
    ("seg", F_PURPLE, PURPLE), ("pt", F_PURPLE_PTS, PURPLE),
    ("seg", F_LIGHTBLUE, LIGHTBLUE), ("seg", F_MAGENTA, MAGENTA),
    ("seg", F_OLIVE, OLIVE),
]
pl_layers = [
    ("pt", P_BLUE, BLUE),
    ("seg", P_ORANGE_FLAT, ORANGE), ("pt", P_ORANGE, ORANGE),
    ("seg", P_GREEN_FLAT, GREEN), ("pt", P_GREEN, GREEN),
    ("seg", P_RED_FLAT, RED), ("pt", P_RED, RED),
    ("seg", P_PURPLE_FLAT, PURPLE), ("pt", P_PURPLE, PURPLE),
    ("seg", P_OLIVE_FLAT, OLIVE), ("pt", P_OLIVE, OLIVE),
]

top = build_panel(W, H1, X1_DOM, Y1_DOM, funds_layers, 1, [-14.7, 81.4], [-12, 612],
                  F_Y_MAJOR, F_Y_MINOR, [str(v) for v in F_Y_MAJOR],
                  "funds over time", "funds", (140, 47), (1229, 646), 22)
top = alt.layer(top, alt.Chart(pd.DataFrame({"k": [0]})).mark_text(
    font="DejaVu Sans Mono", fontSize=21, color="#3E9BEA", align="left",
    baseline="middle", text="34, {").encode(x=alt.value(0), y=alt.value(740)))

bottom = build_panel(W, H2, X2_DOM, Y2_DOM, pl_layers, 0, [31.2, -16.28], [-12.5, 612],
                     P_Y_MAJOR, P_Y_MINOR, ["\u221210", "10", "20", "30"],
                     "p&l over time", "p&l", (145, 73), (1222, 532), 47)

chart = alt.vconcat(top, bottom, spacing=0, padding=0).configure_view(stroke=None).properties(
    background="white")

chart.save("out.html", embed_options={"renderer": "svg", "actions": False})
